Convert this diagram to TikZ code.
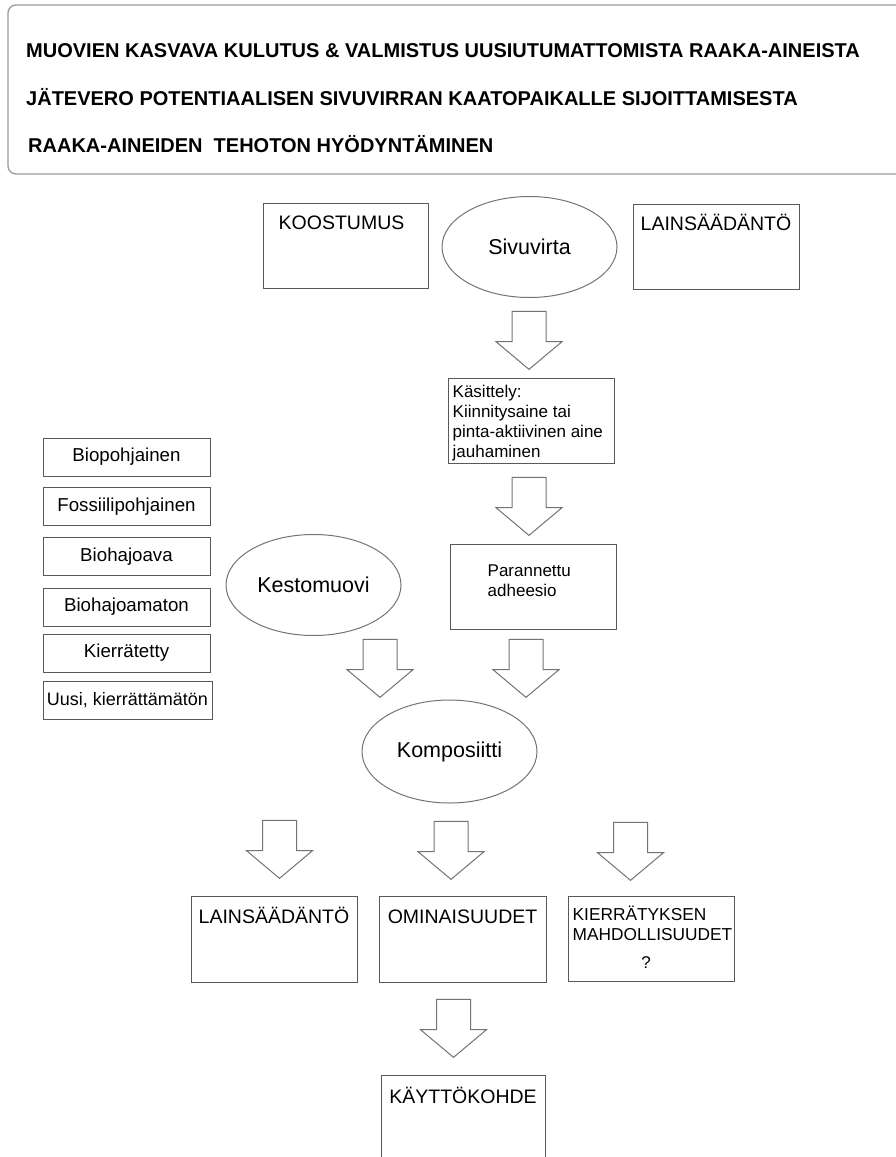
\documentclass[tikz,border=0pt]{standalone}
\usepackage{fontspec}
\setmainfont{Liberation Sans}
\usetikzlibrary{ shapes.geometric, % For the ellipses
                 shapes.arrows,    % For the block arrows
                 positioning,      % For texts placed inside the boxes
               }
\tikzstyle{box} = [rectangle, draw=black!65, line width=1pt, inner sep=0pt]
\tikzstyle{tag} = [box, minimum width=167pt, minimum height=38pt, font=\fontsize{18.7}{22}\selectfont]
\tikzstyle{oval} = [ellipse, draw=black!55, line width=1pt, minimum width=175pt, minimum height=101pt, inner sep=0pt, font=\fontsize{21.5}{25}\selectfont]
\tikzstyle{down} = [single arrow, draw=black!55, line width=1pt, rotate=-90, anchor=tip, minimum height=58pt, inner xsep=0pt, inner ysep=16.5pt, single arrow head extend=16pt, single arrow tip angle=100]
\tikzstyle{caps} = [inner sep=0pt, text height=15pt, text depth=4pt, font=\fontsize{19.5}{23}\selectfont]
\tikzstyle{small} = [inner sep=0pt, align=left, font=\fontsize{17}{20}\selectfont]
\tikzstyle{headline} = [anchor=west, inner sep=0pt, text height=14.5pt, text depth=0pt, font=\bfseries\fontsize{20}{24}\selectfont]

\begin{document}
\begin{tikzpicture}[x=1pt, y=-1pt]
  \useasboundingbox (0, 0) rectangle (895, 1157);
  % problem
  \node (hdr) [box, draw=black!40, line width=1.3pt, rounded corners=8pt, minimum width=900pt, minimum height=169pt] at (458, 89.5) {};
  \node (h1) [headline] at (26, 50) {MUOVIEN KASVAVA KULUTUS \& VALMISTUS UUSIUTUMATTOMISTA RAAKA-AINEISTA};
  \node (h2) [headline] at (26, 98) {JÄTEVERO POTENTIAALISEN SIVUVIRRAN KAATOPAIKALLE SIJOITTAMISESTA};
  \node (h3) [headline] at (28, 145) {RAAKA-AINEIDEN\ \ TEHOTON HYÖDYNTÄMINEN};

  % side stream
  \node (koos) [box, minimum width=165pt, minimum height=85pt] at (345.5, 245.5) {};
  \node (koos_t) [caps, below=12pt of koos.north, xshift=-4pt] {KOOSTUMUS};
  \node (sivu) [oval] at (529.5, 247) {Sivuvirta};
  \node (lain) [box, minimum width=166pt, minimum height=85pt] at (716, 246.5) {};
  \node (lain_t) [caps, below=12pt of lain.north] {LAINSÄÄDÄNTÖ};
  \node (a1) [down] at (529, 370) {};
  \node (kasi) [box, minimum width=166pt, minimum height=85pt] at (531, 420.5) {};
  \node (kasi_t) [small, below right=7pt and 5pt of kasi.north west] {Käsittely:\\Kiinnitysaine tai\\pinta-aktiivinen aine\\jauhaminen};
  \node (a2) [down] at (529, 536) {};
  \node (par) [box, minimum width=166pt, minimum height=85pt] at (533, 586.5) {};
  \node (par_t) [small, below right=21pt and 38pt of par.north west] {Parannettu\\adheesio};

  % plastic
  \node (bio) [tag] at (126.5, 457) {Biopohjainen};
  \node (fos) [tag] at (126.5, 506.5) {Fossiilipohjainen};
  \node (haj) [tag] at (126.5, 556.5) {Biohajoava};
  \node (hajm) [tag] at (126.5, 607) {Biohajoamaton};
  \node (kier_t) [tag] at (126.5, 653) {Kierrätetty};
  \node (uusi) [tag, minimum width=169pt, font=\fontsize{18}{22}\selectfont] at (127.5, 700.5) {Uusi, kierrättämätön};
  \node (kesto) [oval] at (313.5, 585) {Kestomuovi};
  \node (a3) [down] at (380, 698) {};
  \node (a4) [down] at (526, 698) {};

  % composite
  \node (komp) [oval, minimum height=103pt] at (449.5, 751.5) {Komposiitti};
  \node (a5) [down] at (279.5, 879) {};
  \node (a6) [down] at (451, 880) {};
  \node (a7) [down] at (630.5, 881) {};
  \node (lain2) [box, minimum width=166pt, minimum height=86pt] at (274, 939) {};
  \node (lain2_t) [caps, below=13pt of lain2.north] {LAINSÄÄDÄNTÖ};
  \node (omin) [box, minimum width=167pt, minimum height=86pt] at (462.5, 939) {};
  \node (omin_t) [caps, below=13pt of omin.north] {OMINAISUUDET};
  \node (kier) [box, minimum width=166pt, minimum height=85pt] at (651, 938.5) {};
  \node (kier_l) [small, font=\fontsize{17.3}{20}\selectfont, below right=10pt and 5pt of kier.north west] {KIERRÄTYKSEN\\MAHDOLLISUUDET};
  \node (kier_q) [small] at (646, 963) {?};
  \node (a8) [down] at (453.5, 1058) {};
  \node (kaytto) [box, minimum width=164pt, minimum height=100pt] at (463, 1125) {};
  \node (kaytto_t) [caps, below=14pt of kaytto.north] {KÄYTTÖKOHDE};
\end{tikzpicture}
\end{document}
